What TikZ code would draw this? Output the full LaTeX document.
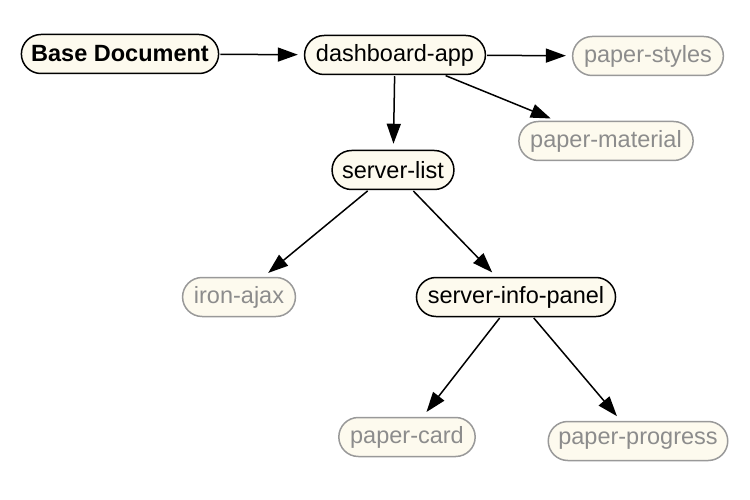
\documentclass[tikz,border=0pt]{standalone}
\usepackage{fontspec}
\setmainfont{Liberation Sans}
\usetikzlibrary{shapes.misc,arrows.meta}
\definecolor{cream}{HTML}{FDFAEE}
\definecolor{dimline}{HTML}{999999}
\definecolor{dimtext}{HTML}{8C8C8C}
\tikzset{
  mainbox/.style={rounded rectangle, draw=black, fill=cream, line width=1.5pt,
    minimum height=39pt, inner xsep=8pt, inner ysep=0pt, text=black,
    font=\fontsize{23.5}{26}\selectfont},
  dimbox/.style={mainbox, draw=dimline, text=dimtext},
  link/.style={line width=1.5pt, -{Triangle[length=20pt,width=14pt]}, shorten >=6pt, shorten <=1pt}
}
\begin{document}
\begin{tikzpicture}[x=1pt,y=-1pt]
\useasboundingbox (0,0) rectangle (750,500);
\node[mainbox, font=\fontsize{23.5}{26}\selectfont\bfseries] (base) at (120,54) {Base Document};
\node[mainbox] (dash) at (395,55) {dashboard-app};
\node[dimbox] (styles) at (648,56) {paper-styles};
\node[dimbox] (material) at (606,141) {paper-material};
\node[mainbox] (slist) at (393,170) {server-list};
\node[dimbox] (ajax) at (239,297) {iron-ajax};
\node[mainbox] (sinfo) at (516,297) {server-info-panel};
\node[dimbox] (card) at (407,437) {paper-card};
\node[dimbox] (progress) at (638,441) {paper-progress};
\draw[link] (base) -- (dash);
\draw[link] (dash) -- (styles);
\draw[link] (dash) -- (material);
\draw[link] (dash) -- (slist);
\draw[link] (slist) -- (ajax);
\draw[link] (slist) -- (sinfo);
\draw[link] (sinfo) -- (card);
\draw[link] (sinfo) -- (progress);
\end{tikzpicture}
\end{document}
